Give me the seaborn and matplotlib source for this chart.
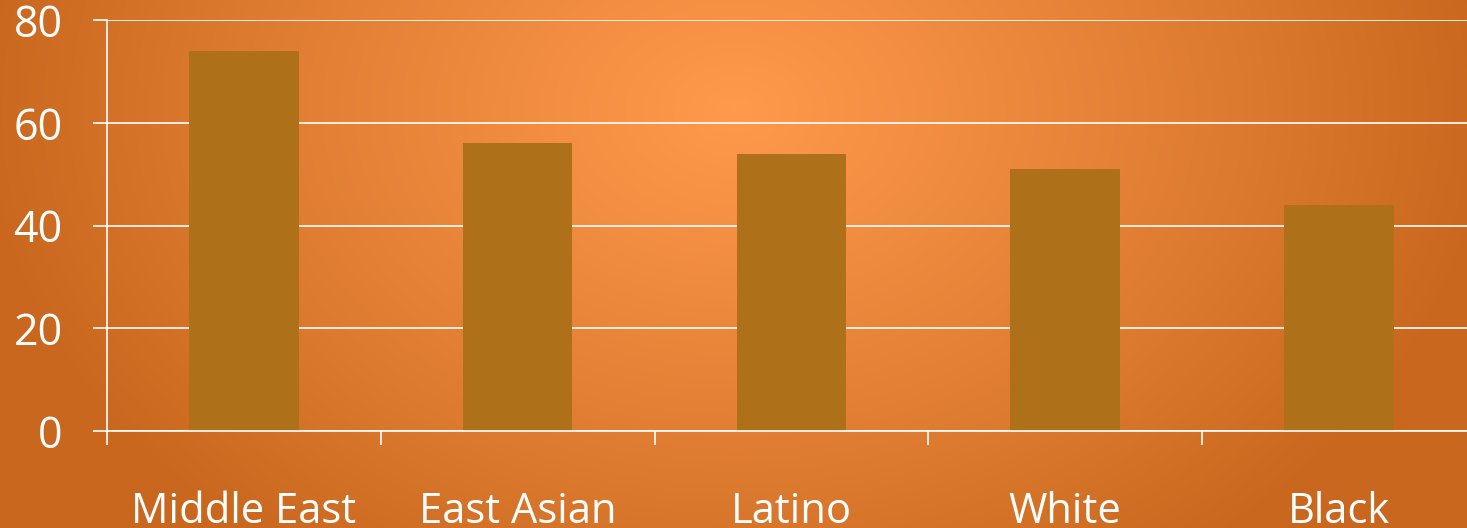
import numpy as np
import pandas as pd
import matplotlib
matplotlib.use("Agg")
import matplotlib.pyplot as plt
import seaborn as sns
from matplotlib.colors import LinearSegmentedColormap

# Chart data
groups = ["Middle East", "East Asian", "Latino", "White", "Black"]
values = [74, 56, 54, 51, 44]
y_ticks = [0, 20, 40, 60, 80]

sns.set_theme(style="white")
plt.rcParams["font.family"] = ["Open Sans", "DejaVu Sans"]

W, H, DPI = 1467, 528, 100
fig = plt.figure(figsize=(W / DPI, H / DPI), dpi=DPI)

# Radial orange backdrop
bg = fig.add_axes([0, 0, 1, 1], zorder=0)
yy, xx = np.mgrid[0:H, 0:W]
cx, cy = 735, 110
r = np.sqrt(((xx - cx) / 760.0) ** 2 + ((yy - cy) / 560.0) ** 2)
r = np.clip(r, 0, 1)
cmap = LinearSegmentedColormap.from_list("glow", ["#FF994C", "#EE8A3E", "#DC7A2F", "#C9671E"])
bg.imshow(r, cmap=cmap, vmin=0, vmax=1, aspect="auto", interpolation="bilinear")
bg.set_axis_off()

# Main plotting area (extends slightly past the right edge)
left = 107 / W
bottom = (H - 431) / H
width = 5 * 273.75 / W
height = (431 - 20) / H
ax = fig.add_axes([left, bottom, width, height], zorder=1)
ax.patch.set_alpha(0)

df = pd.DataFrame({"group": groups, "value": values})
sns.barplot(data=df, x="group", y="value", color="#AE7018", saturation=1,
            width=0.4, linewidth=0, edgecolor="none", ax=ax, zorder=2)

ax.set_xlim(-0.5, 4.5)
ax.set_ylim(0, 80)
ax.set_yticks(y_ticks)
ax.yaxis.grid(True, color="white", linewidth=1.2, zorder=1)
ax.set_axisbelow(True)
ax.set_xlabel("")
ax.set_ylabel("")

for side in ["top", "right"]:
    ax.spines[side].set_visible(False)
for side in ["left", "bottom"]:
    ax.spines[side].set_color("white")
    ax.spines[side].set_linewidth(1.2)
    ax.spines[side].set_zorder(3)

ax.tick_params(axis="y", colors="white", labelcolor="white", length=10, width=1.2,
               direction="out", pad=22, labelsize=31, left=True)
ax.set_xticks(range(len(groups)))
ax.set_xticklabels(groups)
ax.set_xticks(np.arange(-0.5, 5.0, 1.0), minor=True)
ax.tick_params(axis="x", which="major", length=0, pad=43, labelsize=30, labelcolor="white")
ax.tick_params(axis="x", which="minor", length=10, width=1.2, color="white", direction="out", bottom=True)

fig.savefig("out.png", dpi=DPI)
